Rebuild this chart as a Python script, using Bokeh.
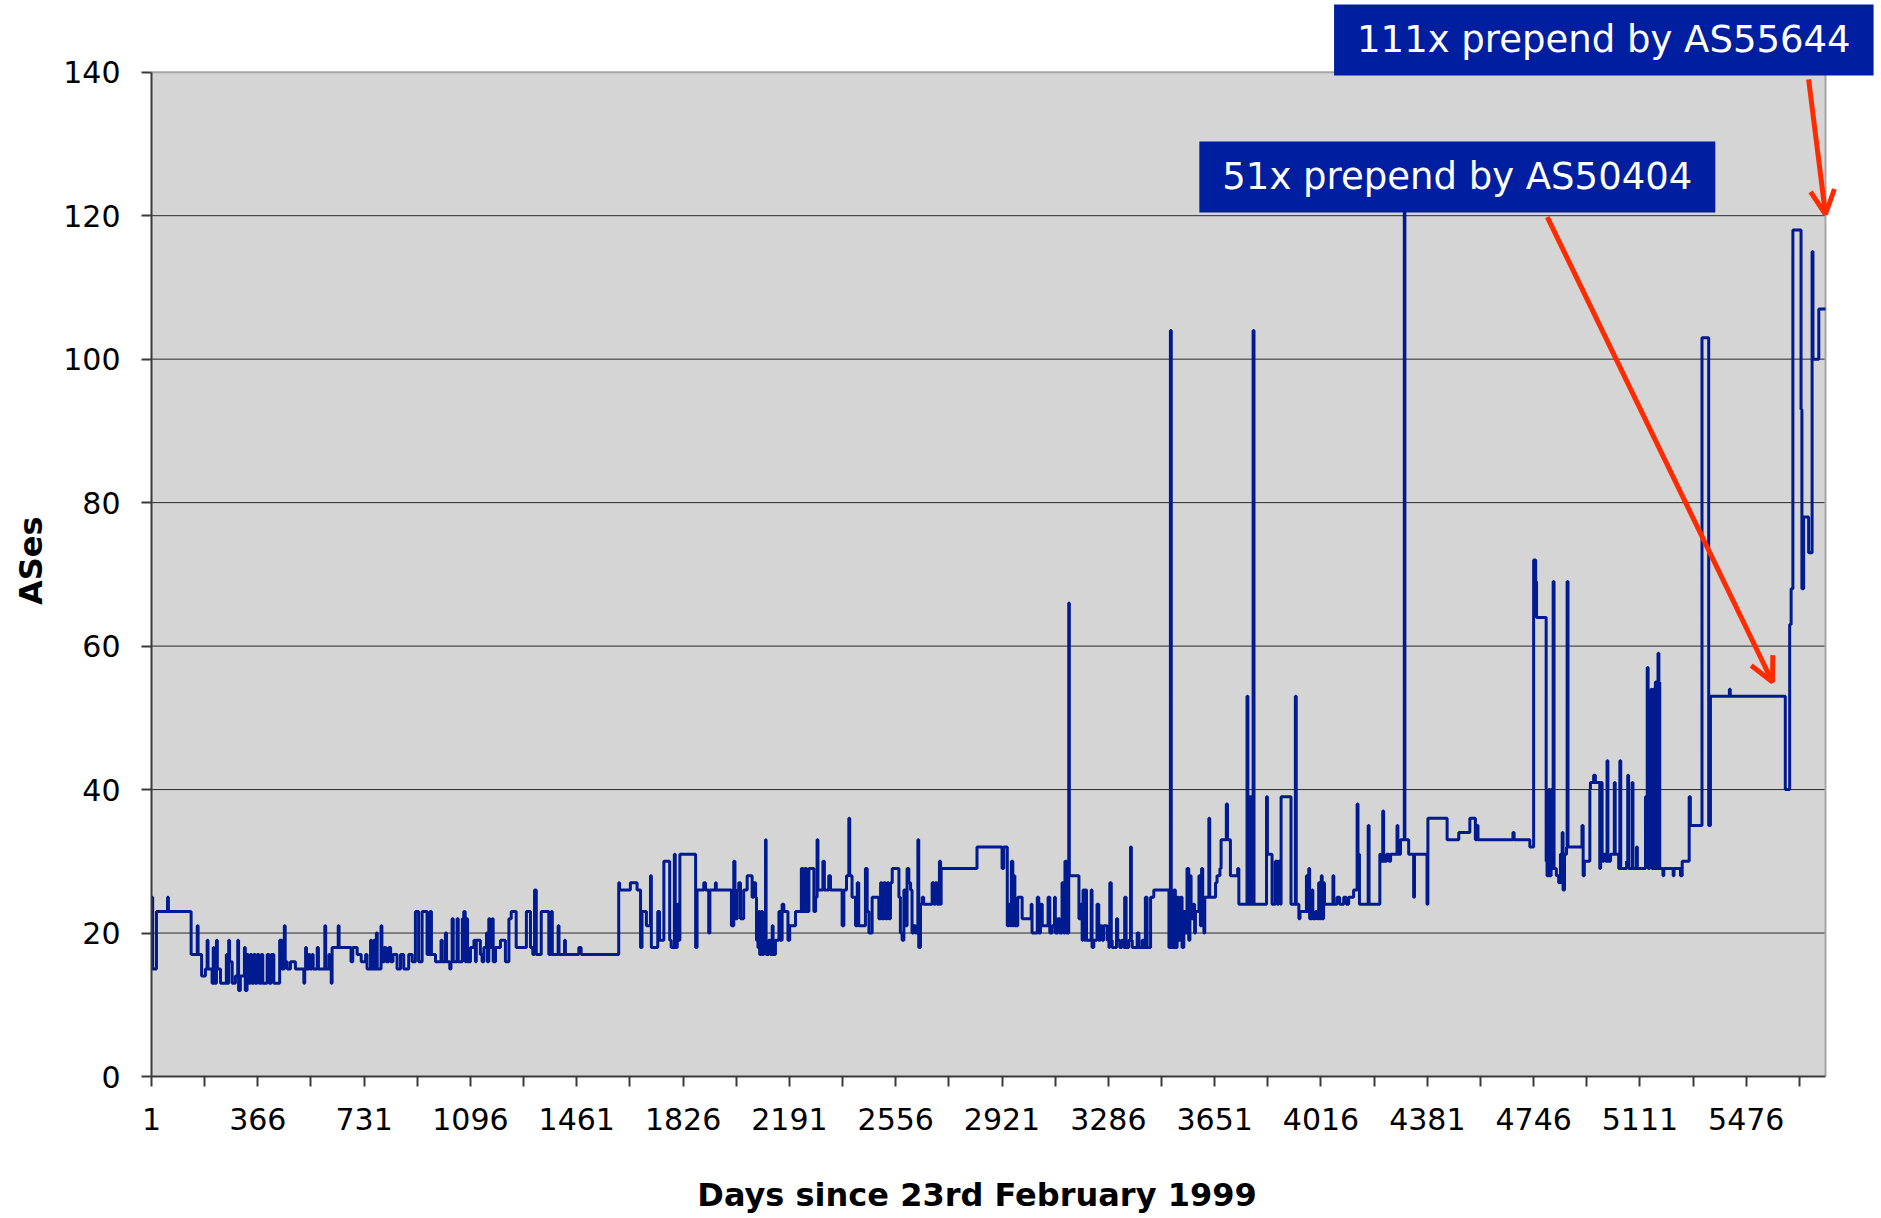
from bokeh.plotting import figure
from bokeh.models import Range1d, FixedTicker, Label, Arrow, OpenHead
from bokeh.embed import file_html
from bokeh.resources import INLINE

# ---- data: step change points (day since 23 Feb 1999, number of ASes) ----
days_a = [1,5,18,56,59,137,158,161,173,186,192,195,209,213,216,224,227,238,258,261,266,269,278,289,297,300,306,320,323,329,333,340,345,352,357,364,370,378,383,398,405,412,421,441,449,457,460,467,478,495,524,527,530,533,541,545,552,556,570,574,596,599,610,613,618,621,642,645,686,692,707,721,736,741,753,756,764,767,773,776,789,792,800,806,815,822,830,844,856,867,884,896,907,918,930]
vals_a = [25,15,23,25,23,17,21,17,14,15,19,15,13,18,13,19,15,13,17,13,19,16,13,14,19,12,14,18,12,17,13,17,13,17,13,17,13,17,13,17,13,17,13,19,15,21,16,15,16,15,13,15,18,15,17,15,17,15,18,15,21,15,17,15,13,18,21,18,16,18,17,16,17,15,19,15,19,15,20,15,21,16,18,16,18,16,17,15,17,15,17,16,23,16,23]

days_b = [947,957,962,976,995,999,1010,1014,1025,1029,1033,1037,1050,1054,1068,1073,1078,1082,1086,1096,1108,1113,1116,1130,1136,1142,1151,1154,1159,1163,1171,1174,1182,1199,1216,1228,1236,1253,1288,1302,1310,1316,1322,1339,1365,1373,1377,1397,1400,1419,1422,1468,1476,1605,1608,1645,1668,1680,1685,1700,1714,1717,1739,1745,1760,1780,1785,1796,1799,1806,1811,1815,1869,1874,1897,1903]
vals_b = [17,23,17,16,19,16,20,16,15,16,22,16,22,16,22,23,16,22,16,18,19,16,19,17,16,18,20,16,22,18,22,16,18,19,16,22,23,18,23,18,17,26,17,23,17,23,17,21,17,19,17,18,17,27,26,27,26,18,23,21,28,18,23,19,30,19,18,31,18,24,19,31,18,26,27,26]

days_c = [1914,1918,1937,1940,1992,2000,2004,2012,2017,2023,2034,2046,2063,2069,2075,2078,2083,2086,2089,2094,2099,2103,2109,2111,2120,2126,2132,2135,2143,2155,2160,2166,2172,2186,2192,2212,2232,2238,2244,2250,2258,2275,2281,2286,2289,2306,2311,2326,2332,2372,2378,2387,2395,2398,2406,2418,2424,2429,2452,2458,2464,2475,2498,2504,2509,2515,2521,2527,2532,2538,2544,2567,2572,2578,2584,2589,2595,2601,2607,2612,2618,2624,2632,2635,2641,2647,2652,2681,2687,2692,2698,2706,2710,2712,2835]
vals_c = [20,26,27,26,21,30,22,26,27,22,26,28,25,27,25,19,18,23,17,23,17,19,33,17,19,17,21,17,19,23,19,24,23,19,21,23,29,23,29,23,29,23,25,33,26,30,26,28,26,21,26,28,36,28,25,21,27,21,29,23,20,25,22,27,22,27,22,27,22,27,29,25,20,19,26,21,29,27,26,20,21,20,33,18,24,25,24,27,24,27,24,30,24,29,32]

days_d = [2921,2927,2939,2944,2950,2953,2958,2961,2965,2975,2990,3021,3024,3042,3047,3053,3059,3079,3085,3093,3101,3104,3112,3119,3127,3133,3137,3142,3150,3152,3185,3190,3196,3199,3204,3207,3211,3227,3230,3236,3247,3253,3259,3265,3270,3282,3288,3291,3296,3299,3314,3318,3325,3332,3339,3342,3347,3356,3362,3365,3368,3385,3391,3402,3408,3413,3419,3431,3442,3494,3499,3502,3511,3516,3522,3528,3534,3539,3545,3551,3556,3562,3566,3570,3577,3582,3585,3597,3600,3602,3606,3610,3614,3617,3631,3634,3654,3659,3669,3673,3691,3695,3705,3730,3734,3762,3765,3768,3771,3774,3777,3783,3786]
vals_d = [29,32,21,24,21,30,21,28,21,25,22,24,20,25,20,24,21,25,20,21,25,20,22,20,27,20,30,20,66,28,22,24,19,26,19,26,19,26,18,19,24,19,21,19,21,19,18,27,19,18,22,19,18,19,18,25,18,19,32,19,18,20,18,19,18,25,18,25,26,18,104,18,26,18,25,19,25,18,23,20,29,19,28,22,24,20,23,28,23,21,29,23,20,25,36,25,27,28,29,33,38,33,28,29,24,53,24,39,24,39,24,104,24]

days_e = [3829,3832,3848,3859,3866,3870,3877,3879,3913,3928,3931,3940,3944,3966,3969,3974,3977,3985,3988,3997,4003,4008,4011,4017,4020,4025,4028,4057,4060,4071,4080,4094,4103,4111,4128,4140,4143,4148,4178,4181,4218,4220,4228,4231,4241,4249,4255,4277,4280,4289,4302,4304,4317,4334,4337,4380,4383,4449,4489,4527,4546,4552,4555,4675,4679,4733,4746,4753,4756,4789]
vals_e = [39,31,24,30,24,30,24,39,24,53,24,22,23,28,23,29,22,26,22,23,22,27,22,28,22,27,24,28,24,25,24,25,24,25,26,38,31,24,35,24,31,30,37,30,31,30,31,35,31,33,122,33,31,25,31,24,36,33,34,36,33,35,33,34,33,32,72,69,64,30]

days_f = [4792,4798,4801,4806,4809,4813,4816,4824,4832,4838,4844,4847,4852,4859,4861,4864,4912,4916,4920,4939,4941,4952,4958,4973,4976,4981,4987,4993,4998,5001,5010,5023,5026,5038,5042,5045,5065,5069,5072,5084,5087,5099,5102,5130,5136,5139,5145,5149,5152,5156,5160,5164,5168,5173,5176,5179,5190,5193,5225,5228,5250,5256,5280,5284,5324,5347,5353,5418,5421,5610,5625,5630,5636,5664,5667,5673,5690,5702,5705,5725,5748]
vals_f = [28,40,28,40,29,69,29,28,27,31,34,26,31,32,69,32,35,28,30,40,41,42,41,29,41,30,31,30,44,30,31,41,31,29,44,29,30,42,29,41,29,32,29,39,57,29,39,54,29,54,29,55,29,59,55,29,28,29,28,29,28,30,39,35,103,35,53,54,53,40,63,68,118,93,68,78,73,115,100,107,107]

y_ticks = [0, 20, 40, 60, 80, 100, 120, 140]
x_label_days = [1, 366, 731, 1096, 1461, 1826, 2191, 2556, 2921, 3286, 3651, 4016, 4381, 4746, 5111, 5476]

# annotations: (text, centre day, centre value) and arrows (start -> end)
note_texts = ["111x prepend by AS55644", "51x prepend by AS50404"]
note_x = [4987, 4484]
note_y = [144.5, 125.4]
arrow_x0 = [5690, 4793]
arrow_y0 = [139, 119.8]
arrow_x1 = [5748, 5566]
arrow_y1 = [120.2, 55]

day = days_a + days_b + days_c + days_d + days_e + days_f
ases = vals_a + vals_b + vals_c + vals_d + vals_e + vals_f
x_minor_days = [d + 182.5 for d in x_label_days]

# ---- layout (pixels) ----
W, H = 1880, 1216
LEFT, BOTTOM = 151, 140          # frame borders
PLOT_W = 1674                    # width of the grey plot area
Y_VIEW_TOP = 150                 # frame extends above the plot area for the call-outs
x_view_end = day[-1] + (day[-1] - day[0]) * (W - LEFT - PLOT_W) / PLOT_W
NB = "\u00a0"                    # non-breaking spaces nudge the axis titles off-centre

LINE = "#001A8F"
BOX = "#001FA0"
RED = "#FF2B00"
GRID = "#2B2B2B"
AXIS = "#3A3A3A"
FONT = "DejaVu Sans"

p = figure(width=W, height=H, output_backend="svg", toolbar_location=None,
           x_range=Range1d(day[0], x_view_end), y_range=Range1d(y_ticks[0], Y_VIEW_TOP),
           min_border_left=LEFT, min_border_right=0, min_border_top=0, min_border_bottom=BOTTOM)

p.background_fill_color = "white"
p.border_fill_color = "white"
p.outline_line_color = None
p.xgrid.visible = False
p.ygrid.visible = False

# grey plot area, grid lines and its top/right border
p.quad(left=day[0], right=day[-1], bottom=y_ticks[0], top=y_ticks[-1],
       fill_color="#D5D5D5", line_color=None)
grid_vals = y_ticks[1:-1]
p.segment(x0=[day[0]] * len(grid_vals), x1=[day[-1]] * len(grid_vals),
          y0=grid_vals, y1=grid_vals, line_color=GRID, line_width=1)
p.segment(x0=[day[0], day[-1]], x1=[day[-1], day[-1]],
          y0=[y_ticks[-1], y_ticks[0]], y1=[y_ticks[-1], y_ticks[-1]],
          line_color="#A6A6A6", line_width=2)

# y axis
ya = p.yaxis[0]
ya.bounds = (y_ticks[0], y_ticks[-1])
ya.ticker = FixedTicker(ticks=y_ticks)
ya.axis_label = "ASes" + NB * 4
ya.axis_label_text_font = FONT
ya.axis_label_text_font_style = "bold"
ya.axis_label_text_font_size = "32px"
ya.axis_label_text_color = "black"
ya.axis_label_standoff = 10
ya.major_label_text_font = FONT
ya.major_label_text_font_size = "30px"
ya.major_label_text_color = "black"
ya.major_label_standoff = 21
ya.major_tick_in = 0
ya.major_tick_out = 10
ya.minor_tick_out = 0
ya.minor_tick_in = 0
ya.axis_line_color = AXIS
ya.axis_line_width = 2
ya.major_tick_line_color = AXIS
ya.major_tick_line_width = 2

# x axis
xa = p.xaxis[0]
xa.bounds = (day[0], day[-1])
xa.ticker = FixedTicker(ticks=x_label_days, minor_ticks=x_minor_days)
xa.axis_label = "Days since 23rd February 1999" + NB * 7
xa.axis_label_text_font = FONT
xa.axis_label_text_font_style = "bold"
xa.axis_label_text_font_size = "32px"
xa.axis_label_text_color = "black"
xa.axis_label_standoff = 43
xa.major_label_text_font = FONT
xa.major_label_text_font_size = "30px"
xa.major_label_text_color = "black"
xa.major_label_standoff = 21
xa.major_tick_in = 0
xa.major_tick_out = 10
xa.minor_tick_in = 0
xa.minor_tick_out = 10
xa.axis_line_color = AXIS
xa.axis_line_width = 2
xa.major_tick_line_color = AXIS
xa.major_tick_line_width = 2
xa.minor_tick_line_color = AXIS
xa.minor_tick_line_width = 2

p.step(day, ases, mode="after", line_color=LINE, line_width=3)

for x0, y0, x1, y1 in zip(arrow_x0, arrow_y0, arrow_x1, arrow_y1):
    p.add_layout(Arrow(x_start=x0, y_start=y0, x_end=x1, y_end=y1,
                       line_color=RED, line_width=5,
                       end=OpenHead(size=24, line_color=RED, line_width=5)))

for t, x, y in zip(note_texts, note_x, note_y):
    p.add_layout(Label(x=x, y=y, text=t, text_align="center", text_baseline="middle",
                       text_font=FONT, text_font_size="37px", text_color="white",
                       background_fill_color=BOX, background_fill_alpha=1.0,
                       padding=(23, 14)))

open("out.html", "w").write(file_html(p, INLINE))
